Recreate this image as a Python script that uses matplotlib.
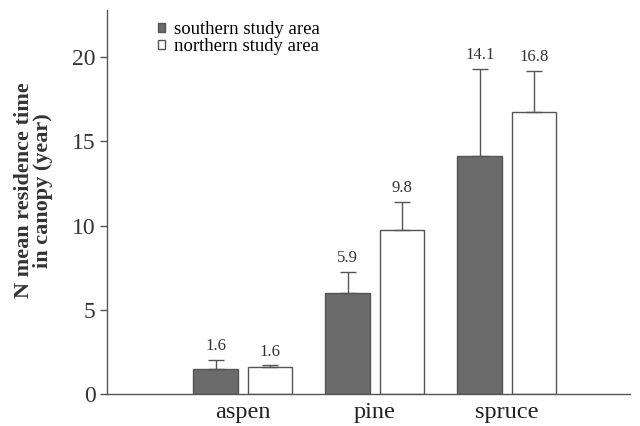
import matplotlib
matplotlib.use("Agg")
import matplotlib.pyplot as plt
import numpy as np
from matplotlib.patches import Patch

categories = ["aspen", "pine", "spruce"]
south_vals = [1.5, 6.0, 14.1]
north_vals = [1.6, 9.75, 16.75]
south_err = [0.5, 1.25, 5.2]
north_err = [0.1, 1.65, 2.4]
south_labels = ["1.6", "5.9", "14.1"]
north_labels = ["1.6", "9.8", "16.8"]
series_names = ["southern study area", "northern study area"]

plt.rcParams['font.family'] = ['Liberation Serif', 'DejaVu Serif']

fig = plt.figure(figsize=(6.4, 4.26), dpi=100)
ax = fig.add_axes([0.167, 0.075, 0.817, 0.902])

x = np.arange(len(categories))
w = 0.34
off = 0.205
dark = "#6b6b6b"
edge = "#555555"

ax.bar(x - off, south_vals, w, color=dark, edgecolor=edge, linewidth=1.0,
       yerr=[np.zeros(3), south_err], error_kw=dict(ecolor=edge, elinewidth=1.0, capsize=6, capthick=1.0))
ax.bar(x + off, north_vals, w, color="white", edgecolor=edge, linewidth=1.0,
       yerr=[np.zeros(3), north_err], error_kw=dict(ecolor=edge, elinewidth=1.0, capsize=6, capthick=1.0))

for i in range(3):
    ax.text(x[i] - off, south_vals[i] + south_err[i] + 0.35, south_labels[i],
            ha='center', va='bottom', fontsize=12, color="#333333")
    ax.text(x[i] + off, north_vals[i] + north_err[i] + 0.35, north_labels[i],
            ha='center', va='bottom', fontsize=12, color="#333333")

ax.set_xlim(-1.03, 2.93)
ax.set_ylim(0, 22.8)
ax.set_yticks([0, 5, 10, 15, 20])
ax.set_xticks(x)
ax.set_xticklabels(categories, fontsize=17.5, color="#222222")
ax.tick_params(axis='x', length=0, pad=6)
ax.tick_params(axis='y', labelsize=17, length=5, width=1, color=edge, labelcolor="#333333", pad=3)
for s in ['top', 'right']:
    ax.spines[s].set_visible(False)
for s in ['left', 'bottom']:
    ax.spines[s].set_color(edge)
    ax.spines[s].set_linewidth(1.0)

ax.set_ylabel("N mean residence time\nin canopy (year)", fontsize=16, fontweight='bold',
              color="#333333", linespacing=0.95)
ax.yaxis.set_label_coords(-0.103, 0.53)

handles = [Patch(facecolor=dark, edgecolor=edge), Patch(facecolor="white", edgecolor=edge)]
ax.legend(handles, series_names, loc='upper left', bbox_to_anchor=(0.072, 1.005), frameon=False,
          handlelength=0.4, handleheight=0.4, handletextpad=0.45,
          labelspacing=0.0, borderaxespad=0.3, prop={'family': 'Liberation Serif', 'size': 13.5})

fig.savefig("out.png", dpi=100)
